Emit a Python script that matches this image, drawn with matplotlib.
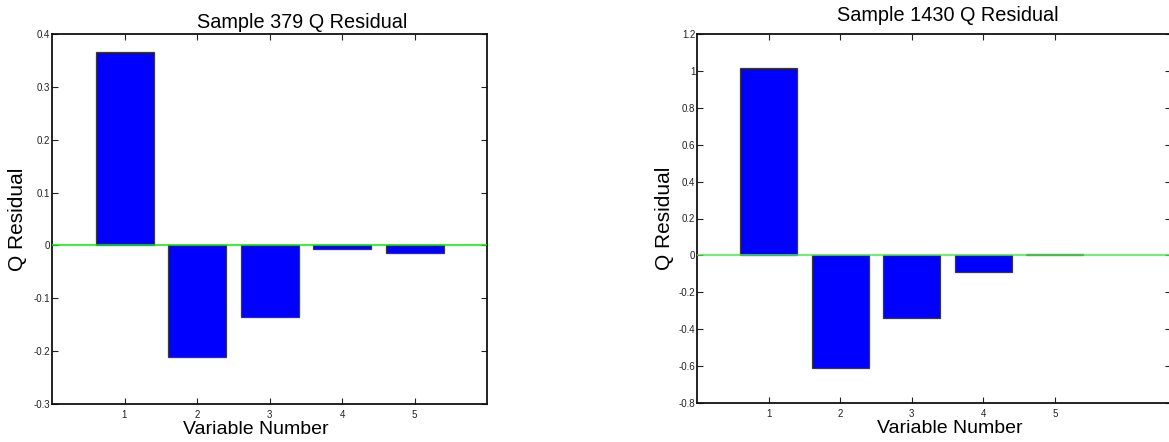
import matplotlib
matplotlib.use("Agg")
import matplotlib.pyplot as plt
from matplotlib.ticker import FuncFormatter

plt.rcParams['font.family'] = ['Liberation Sans', 'DejaVu Sans']

variables = [1, 2, 3, 4, 5]
residual_379 = [0.3665, -0.212, -0.135, -0.0076, -0.014]
residual_1430 = [1.017, -0.609, -0.338, -0.090, 0.005]
yticks_379 = [-0.3, -0.2, -0.1, 0, 0.1, 0.2, 0.3, 0.4]
yticks_1430 = [-0.8, -0.6, -0.4, -0.2, 0, 0.2, 0.4, 0.6, 0.8, 1, 1.2]
titles = ["Sample 379 Q Residual", "Sample 1430 Q Residual"]
hidden_label = "1.5455"

W, H = 1169, 442
fig = plt.figure(figsize=(W / 100, H / 100), dpi=100)


def px_axes(left, top, right, bottom):
    return fig.add_axes([left / W, 1 - bottom / H, (right - left) / W, (bottom - top) / H])


def gfmt(v, pos):
    return "%g" % round(v, 6)


def style(ax, vals, yticks, xlim, title, title_x, title_pad, xlabel_x, ylabel_x, zero_color):
    ax.bar(variables, vals, width=0.8, color='#0000ff', edgecolor='#3a3a3a', linewidth=0.9, zorder=2)
    ax.axhline(0, color=zero_color, linewidth=1.1, zorder=3)
    ax.set_xlim(*xlim)
    ax.set_ylim(yticks[0], yticks[-1])
    ax.set_xticks(variables)
    ax.set_yticks(yticks)
    ax.yaxis.set_major_formatter(FuncFormatter(gfmt))
    ax.tick_params(direction='in', length=4, width=0.8, top=True, right=True,
                   labelsize=7, colors='#222222', pad=1.5)
    ax.tick_params(axis='x', pad=4)
    for s in ax.spines.values():
        s.set_linewidth(1.3)
        s.set_color('#111111')
    t = ax.set_title(title, fontsize=14.3, pad=title_pad)
    t.set_x(title_x)
    ax.set_xlabel("Variable Number", fontsize=14)
    ax.xaxis.set_label_coords(xlabel_x, -0.045)
    ax.set_ylabel("Q Residual", fontsize=15)
    ax.yaxis.label.set_va('center')
    ax.yaxis.set_label_coords(ylabel_x, 0.5)


ax1 = px_axes(52, 34, 487, 404)
style(ax1, residual_379, yticks_379, (0, 6), titles[0], 0.576, 4.5, 0.469,
      (17.5 - 52) / 435, '#00ee00')

ax2 = px_axes(697.3, 34, 1171, 403)
style(ax2, residual_1430, yticks_1430, (0, (1171 - 697.3) / 71.5), titles[1], 0.528, 9.5,
      (950 - 697.3) / 473.7, (664.5 - 697.3) / 473.7, '#44ee44')

fig.text(912 / W, 1 - 32.5 / H, hidden_label, fontsize=15, ha='center', va='top', zorder=-1)

fig.savefig("out.png", dpi=100)
